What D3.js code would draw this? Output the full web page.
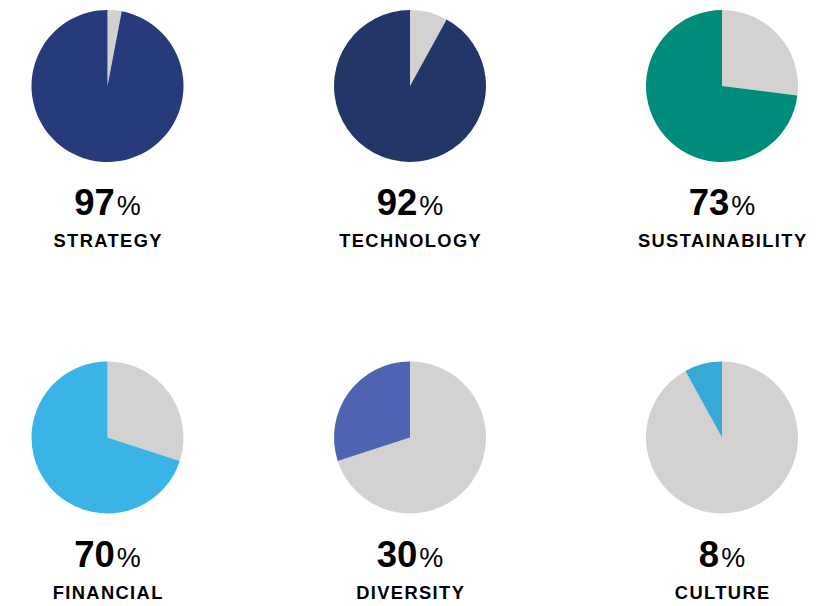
<!DOCTYPE html>
<html>
<head>
<meta charset="utf-8">
<script src="https://cdn.jsdelivr.net/npm/d3@7"></script>
<style>
	body { margin: 0; background: #fff; }
	svg { display: block; font-family: "Liberation Sans", Arial, Helvetica, sans-serif; }
</style>
</head>
<body>
<svg id="chart" width="823" height="606"></svg>
<script>
(function(d3) {
	'use strict';

	var categories = ['STRATEGY', 'TECHNOLOGY', 'SUSTAINABILITY', 'FINANCIAL', 'DIVERSITY', 'CULTURE'];
	var percents = [97, 92, 73, 70, 30, 8];
	var colors = ['#273a7c', '#223668', '#008c7a', '#3ab4e6', '#4e64b0', '#38a8d6'];
	var restColor = '#d3d2d1';

	var svg = d3.select('#chart');
	var radius = 76;
	var spacing = 1.4;

	var col = d3.scaleOrdinal().domain([0, 1, 2]).range([107.5, 410, 722]);
	var row = d3.scaleOrdinal().domain([0, 1]).range([86, 437.5]);

	var arc = d3.arc().innerRadius(0).outerRadius(radius);

	/** grey rest first, so the value ends at twelve o'clock */
	var pie = d3.pie().sort(null).value(function(d) { return d.v; });

	categories.forEach(function(name, i) {
		var cx = col(i % 3), cy = row(Math.floor(i / 3));
		var g = svg.append('g').attr('transform', 'translate(' + cx + ',' + cy + ')');

		var slices = [
			{ v: 100 - percents[i], c: restColor },
			{ v: percents[i], c: colors[i] }
		];
		g.selectAll('path').data(pie(slices)).enter().append('path')
			.attr('d', arc)
			.attr('fill', function(d) { return d.data.c; });

		var num = g.append('text')
			.attr('x', 0).attr('y', 129)
			.attr('text-anchor', 'middle')
			.attr('fill', '#000');
		num.append('tspan').attr('font-size', 36.5).attr('font-weight', 'bold').text(percents[i]);
		num.append('tspan').attr('font-size', 27).attr('dx', 2).text('%');

		g.append('text')
			.attr('x', spacing / 2).attr('y', 161)
			.attr('text-anchor', 'middle')
			.attr('font-size', 18.3).attr('font-weight', 'bold')
			.attr('letter-spacing', spacing)
			.attr('fill', '#000')
			.text(name);
	});
})(d3);
</script>
</body>
</html>
